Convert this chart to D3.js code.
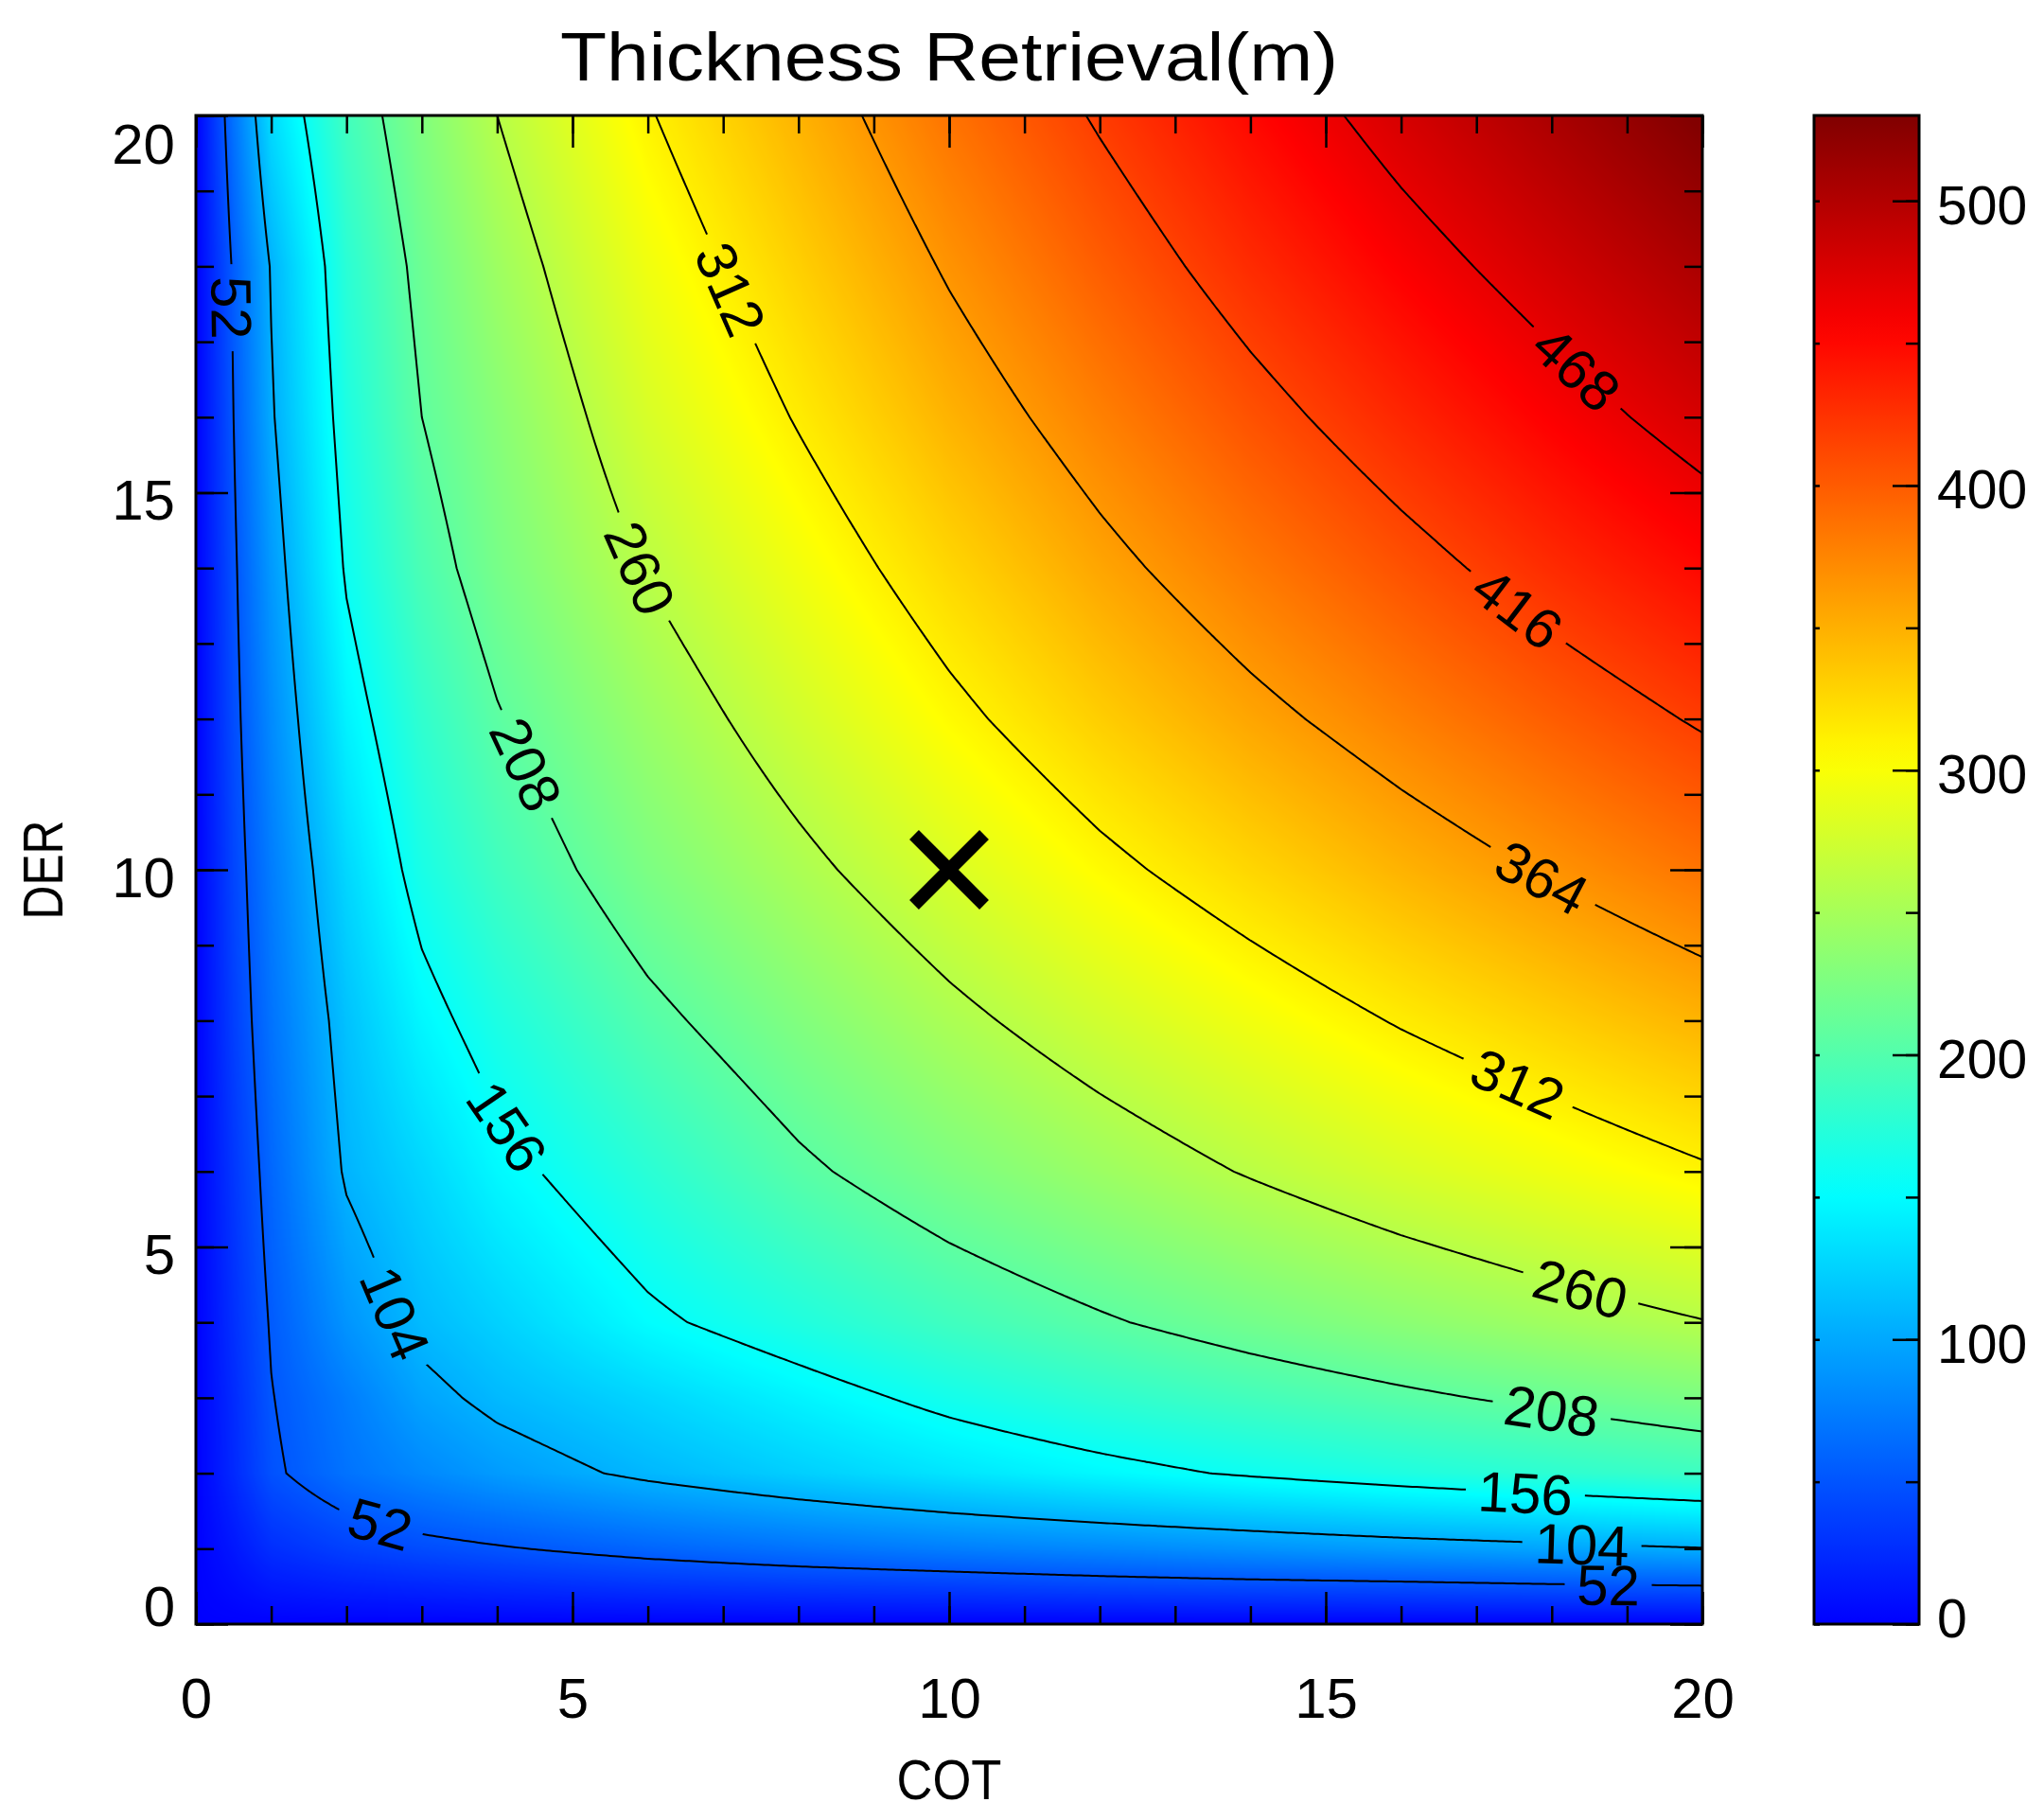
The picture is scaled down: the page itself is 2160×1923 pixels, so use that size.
<!DOCTYPE html>
<html lang="en">
<head>
<meta charset="UTF-8" />
<title>Thickness Retrieval(m)</title>
<script src="https://d3js.org/d3.v7.min.js"></script>
<style>
  body { margin: 0; padding: 0; background: #fff; }
  svg { display: block; }
  text { font-family: "Liberation Sans", Arial, sans-serif; fill: #000; }
  .tick text { font-size: 60px; }
  .cbar .tick text { font-size: 57px; }
  .tick line { stroke: #000; stroke-width: 2.5; }
</style>
</head>
<body>
<svg id="chart" width="2160" height="1923"></svg>
<script>
// grid nodes: COT across, DER up
const cot = [0, 0.5, 1, 2, 3, 4, 6, 8, 10, 12, 14, 16, 18, 20];
const der = [0, 0.5, 1, 2, 3, 4, 6, 8, 10, 12, 14, 16, 18, 20];
// thickness (m), one row per DER value
const thickness = [
  [0, 0, 0, 0, 0, 0, 0, 0, 0, 0, 0, 0, 0, 0],
  [0, 7, 14, 19, 22, 25, 30, 34, 37, 41, 44, 46, 49, 51],
  [0, 13, 27, 38, 45, 50, 60, 68, 75, 81, 87, 93, 98, 103],
  [0, 24, 48, 68, 81, 92, 109, 123, 136, 148, 159, 169, 178, 187],
  [0, 25, 51, 74, 97, 110, 127, 145, 163, 178, 191, 203, 214, 225],
  [0, 28, 54, 88, 111, 124, 151, 170, 189, 205, 220, 234, 247, 259],
  [0, 32, 61, 107, 127, 148, 176, 203, 225, 244, 262, 279, 294, 309],
  [0, 37, 68, 115, 147, 168, 201, 228, 253, 275, 295, 314, 331, 348],
  [0, 41, 74, 128, 166, 189, 225, 253, 280, 305, 327, 348, 367, 386],
  [0, 45, 82, 144, 180, 206, 243, 275, 305, 332, 356, 378, 399, 419],
  [0, 48, 91, 159, 196, 222, 262, 295, 327, 356, 382, 406, 429, 450],
  [0, 52, 101, 168, 208, 232, 279, 314, 348, 378, 406, 432, 456, 479],
  [0, 55, 106, 176, 216, 245, 294, 331, 367, 399, 429, 456, 481, 505],
  [0, 68, 130, 190, 228, 260, 310, 348, 386, 419, 450, 479, 505, 531]
];
const levels = [52, 104, 156, 208, 260, 312, 364, 416, 468];
// contour labels: [level, COT, DER]
const labelSpots = [
  [52, 0.52, 17.46], [312, 6.98, 17.63], [260, 5.86, 14.0], [208, 4.38, 11.4],
  [156, 3.95, 6.47], [104, 2.48, 4.05], [52, 2.39, 1.14],
  [468, 18.42, 16.76], [416, 17.56, 13.48], [364, 17.9, 9.93], [312, 17.56, 7.16],
  [260, 18.42, 4.57], [208, 17.99, 2.92], [156, 17.64, 1.8], [104, 18.42, 1.06], [52, 18.77, 0.59]
];
const marker = [10, 10];
const axisTicks = [0, 5, 10, 15, 20];
const barTicks = [0, 100, 200, 300, 400, 500];
const barMax = 530;
const jetColors = ["#0000ff", "#00ffff", "#ffff00", "#ff0000", "#800000"];

const svg = d3.select("#chart");
svg.append("rect").attr("width", 2160).attr("height", 1923).attr("fill", "#fff");

const x = d3.scaleLinear().domain([0, 20]).range([207, 1799]);
const y = d3.scaleLinear().domain([0, 20]).range([1716, 122]);
const color = d3.scaleLinear()
  .domain(jetColors.map((c, i) => barMax * [0, 2, 4, 6, 7][i] / 7))
  .range(jetColors).clamp(true);

function locate(arr, v) {
  let j = d3.bisectRight(arr, v) - 1;
  j = Math.max(0, Math.min(arr.length - 2, j));
  const f = Math.max(0, Math.min(1, (v - arr[j]) / (arr[j + 1] - arr[j])));
  return [j, f];
}
function sample(ci, ri) {
  const [j, fx] = ci, [i, fy] = ri;
  const a = thickness[i][j], b = thickness[i][j + 1];
  const c = thickness[i + 1][j], d = thickness[i + 1][j + 1];
  return (a * (1 - fx) + b * fx) * (1 - fy) + (c * (1 - fx) + d * fx) * fy;
}

// colour image of the field
const W = Math.round(x(20) - x(0)), H = Math.round(y(0) - y(20));
const canvas = document.createElement("canvas");
canvas.width = W; canvas.height = H;
const ctx = canvas.getContext("2d");
const img = ctx.createImageData(W, H);
const lut = d3.range(1024).map(k => d3.rgb(color(k / 1023 * barMax)));
const cols = d3.range(W).map(px => locate(cot, x.invert(x(0) + px + 0.5)));
const rows = d3.range(H).map(py => locate(der, y.invert(y(20) + py + 0.5)));
for (let py = 0; py < H; py++) {
  for (let px = 0; px < W; px++) {
    const v = sample(cols[px], rows[py]);
    const k = Math.max(0, Math.min(1023, Math.round(v / barMax * 1023)));
    const c = lut[k], o = (py * W + px) * 4;
    img.data[o] = c.r; img.data[o + 1] = c.g; img.data[o + 2] = c.b; img.data[o + 3] = 255;
  }
}
ctx.putImageData(img, 0, 0);
svg.append("image")
  .attr("x", x(0)).attr("y", y(20)).attr("width", W).attr("height", H)
  .attr("preserveAspectRatio", "none")
  .attr("href", canvas.toDataURL());

// contour lines
const n = 401, step = 20 / (n - 1);
const values = new Float64Array(n * n);
for (let r = 0; r < n; r++) {
  const ri = locate(der, r * step);
  for (let c = 0; c < n; c++) values[r * n + c] = sample(locate(cot, c * step), ri);
}
const contours = d3.contours().size([n, n]).thresholds(levels)(values);

function splitRing(ring) {
  const onB = p => p[0] <= 0 || p[0] >= n || p[1] <= 0 || p[1] >= n;
  const L = ring.length - 1;
  let start = -1;
  for (let i = 0; i < L; i++) {
    if (onB(ring[i]) && onB(ring[i + 1])) { start = i + 1; break; }
  }
  if (start < 0) return [ring];
  const out = [];
  let cur = null;
  for (let k = 0; k < L; k++) {
    const i = (start + k) % L, j = (i + 1) % L;
    const a = ring[i], b = ring[j];
    if (onB(a) && onB(b)) { if (cur) { out.push(cur); cur = null; } continue; }
    if (!cur) cur = [a];
    cur.push(b);
  }
  if (cur) out.push(cur);
  return out;
}
const toPx = p => [x((p[0] - 0.5) * step), y((p[1] - 0.5) * step)];
const lineSets = contours.map(ct => {
  const lines = [];
  ct.coordinates.forEach(poly => poly.forEach(ring =>
    splitRing(ring).forEach(l => lines.push(l.map(toPx)))));
  return { level: ct.value, lines };
});

const defs = svg.append("defs");
defs.append("clipPath").attr("id", "plotClip").append("rect")
  .attr("x", x(0)).attr("y", y(20)).attr("width", W).attr("height", H);
const mask = defs.append("mask").attr("id", "gapMask")
  .attr("maskUnits", "userSpaceOnUse")
  .attr("x", 0).attr("y", 0).attr("width", 2160).attr("height", 1923);
mask.append("rect").attr("width", 2160).attr("height", 1923).attr("fill", "#fff");

const labelLayer = [];
labelSpots.forEach(([lev, cx, cy]) => {
  const set = lineSets.find(s => s.level === lev);
  if (!set) return;
  const tx = x(cx), ty = y(cy);
  let best = null, bd = Infinity;
  set.lines.forEach(l => l.forEach((p, i) => {
    const d = (p[0] - tx) ** 2 + (p[1] - ty) ** 2;
    if (d < bd) { bd = d; best = [l, i]; }
  }));
  const [l, i] = best;
  const p0 = l[Math.max(0, i - 6)], p1 = l[Math.min(l.length - 1, i + 6)];
  let a = Math.atan2(p1[1] - p0[1], p1[0] - p0[0]) * 180 / Math.PI;
  if (a > 90) a -= 180;
  if (a <= -90) a += 180;
  const w = String(lev).length * 34;
  mask.append("rect")
    .attr("x", -w / 2 - 12).attr("y", -28).attr("width", w + 24).attr("height", 56)
    .attr("transform", `translate(${l[i][0]},${l[i][1]}) rotate(${a})`)
    .attr("fill", "#000");
  labelLayer.push({ lev, p: l[i], a });
});

const lineGen = d3.line();
svg.append("g")
  .attr("clip-path", "url(#plotClip)")
  .append("g")
  .attr("mask", "url(#gapMask)")
  .selectAll("path")
  .data(lineSets.flatMap(s => s.lines))
  .enter()
  .append("path")
  .attr("d", lineGen)
  .attr("fill", "none")
  .attr("stroke", "#000")
  .attr("stroke-width", 2);

svg.append("g")
  .selectAll("text")
  .data(labelLayer)
  .enter()
  .append("text")
  .attr("transform", d => `translate(${d.p[0]},${d.p[1]}) rotate(${d.a})`)
  .attr("text-anchor", "middle")
  .attr("dy", "0.36em")
  .attr("font-size", 60)
  .text(d => d.lev);

// cross at the retrieved point
const mx = x(marker[0]), my = y(marker[1]), arm = 37;
svg.append("path")
  .attr("d", `M${mx - arm},${my - arm}L${mx + arm},${my + arm}M${mx - arm},${my + arm}L${mx + arm},${my - arm}`)
  .attr("stroke", "#000").attr("stroke-width", 14).attr("fill", "none");

// axes
const minor = d3.range(0, 21, 1);
const noDomain = g => g.select(".domain").remove();
svg.append("g").attr("transform", `translate(0,${y(0)})`)
  .call(d3.axisBottom(x).tickValues(minor).tickSize(-19).tickFormat("")).call(noDomain);
svg.append("g").attr("transform", `translate(0,${y(0)})`)
  .call(d3.axisBottom(x).tickValues(axisTicks).tickSize(-34).tickPadding(56).tickFormat(d3.format("d")))
  .call(noDomain);
svg.append("g").attr("transform", `translate(0,${y(20)})`)
  .call(d3.axisTop(x).tickValues(minor).tickSize(-19).tickFormat("")).call(noDomain);
svg.append("g").attr("transform", `translate(0,${y(20)})`)
  .call(d3.axisTop(x).tickValues(axisTicks).tickSize(-34).tickFormat("")).call(noDomain);
svg.append("g").attr("transform", `translate(${x(0)},0)`)
  .call(d3.axisLeft(y).tickValues(minor).tickSize(-19).tickFormat("")).call(noDomain);
svg.append("g").attr("transform", `translate(${x(0)},0)`)
  .call(d3.axisLeft(y).tickValues(axisTicks).tickSize(-34).tickPadding(22).tickFormat(d3.format("d")))
  .call(noDomain)
  .selectAll(".tick text")
  .attr("dy", d => d === 20 ? "0.84em" : d === 0 ? "0.03em" : "0.47em");
svg.append("g").attr("transform", `translate(${x(20)},0)`)
  .call(d3.axisRight(y).tickValues(minor).tickSize(-19).tickFormat("")).call(noDomain);
svg.append("g").attr("transform", `translate(${x(20)},0)`)
  .call(d3.axisRight(y).tickValues(axisTicks).tickSize(-34).tickFormat("")).call(noDomain);

svg.append("rect")
  .attr("x", x(0)).attr("y", y(20)).attr("width", W).attr("height", H)
  .attr("fill", "none").attr("stroke", "#000").attr("stroke-width", 3);

// colour bar
const cb = d3.scaleLinear().domain([0, barMax]).range([1716, 122]);
const cbX0 = 1917, cbX1 = 2028;
const grad = defs.append("linearGradient").attr("id", "cbGrad")
  .attr("x1", 0).attr("y1", 1).attr("x2", 0).attr("y2", 0);
d3.range(0, barMax + 1, 10).forEach(v => {
  grad.append("stop").attr("offset", v / barMax).attr("stop-color", color(v));
});
svg.append("rect")
  .attr("x", cbX0).attr("y", cb(barMax)).attr("width", cbX1 - cbX0).attr("height", cb(0) - cb(barMax))
  .attr("fill", "url(#cbGrad)");
const cbMinor = d3.range(0, barMax, 50);
svg.append("g").attr("class", "cbar").attr("transform", `translate(${cbX1},0)`)
  .call(d3.axisRight(cb).tickValues(cbMinor).tickSize(-14).tickFormat("")).call(noDomain);
svg.append("g").attr("class", "cbar").attr("transform", `translate(${cbX1},0)`)
  .call(d3.axisRight(cb).tickValues(barTicks).tickSize(-28).tickPadding(19).tickFormat(d3.format("d")))
  .call(noDomain)
  .selectAll(".tick text")
  .attr("dy", d => d === 0 ? "0.24em" : "0.42em");
svg.append("g").attr("class", "cbar").attr("transform", `translate(${cbX0},0)`)
  .call(d3.axisLeft(cb).tickValues(cbMinor).tickSize(-6).tickFormat("")).call(noDomain);
svg.append("rect")
  .attr("x", cbX0).attr("y", cb(barMax)).attr("width", cbX1 - cbX0).attr("height", cb(0) - cb(barMax))
  .attr("fill", "none").attr("stroke", "#000").attr("stroke-width", 3);

// titles
svg.append("text")
  .attr("x", x(10)).attr("y", 85)
  .attr("text-anchor", "middle")
  .attr("font-size", 72)
  .attr("textLength", 822).attr("lengthAdjust", "spacingAndGlyphs")
  .text("Thickness Retrieval(m)");
svg.append("text")
  .attr("x", x(10)).attr("y", 1901)
  .attr("text-anchor", "middle")
  .attr("font-size", 60)
  .attr("textLength", 111).attr("lengthAdjust", "spacingAndGlyphs")
  .text("COT");
svg.append("text")
  .attr("transform", `translate(66,${y(10)}) rotate(-90)`)
  .attr("text-anchor", "middle")
  .attr("font-size", 60)
  .attr("textLength", 105).attr("lengthAdjust", "spacingAndGlyphs")
  .text("DER");
</script>
</body>
</html>
